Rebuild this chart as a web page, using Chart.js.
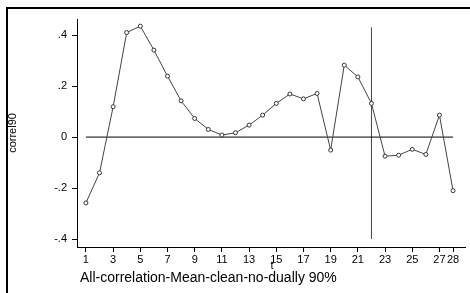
<!DOCTYPE html>
<html>
<head>
<meta charset="utf-8">
<script src="https://cdn.jsdelivr.net/npm/chart.js@4/dist/chart.umd.min.js"></script>
<style>
  html, body { margin: 0; padding: 0; background: #fff; }
  #wrap { width: 470px; height: 293px; position: relative; }
</style>
</head>
<body>
<div id="wrap"><canvas id="chart" width="470" height="293"></canvas></div>
<script>
// values
const tValues = [1, 2, 3, 4, 5, 6, 7, 8, 9, 10, 11, 12, 13, 14, 15, 16, 17, 18, 19, 20, 21, 22, 23, 24, 25, 26, 27, 28];
const correl90 = [-0.258, -0.140, 0.119, 0.410, 0.435, 0.341, 0.239, 0.142, 0.073, 0.030, 0.008, 0.017, 0.047, 0.086,
  0.132, 0.169, 0.150, 0.171, -0.051, 0.282, 0.236, 0.132, -0.075, -0.071, -0.048, -0.068, 0.086, -0.210];
const xTicks = [1, 3, 5, 7, 9, 11, 13, 15, 17, 19, 21, 23, 25, 27, 28];
const yTicks = [-0.4, -0.2, 0, 0.2, 0.4];
const cutT = 22;
const cutRange = [-0.40, 0.43];
const titleText = "All-correlation-Mean-clean-no-dually 90%";

const font = "Arial, 'Liberation Sans', sans-serif";

const framePlugin = {
  id: "frame",
  afterDraw(chart) {
    const ctx = chart.ctx;
    ctx.save();
    ctx.strokeStyle = "#000";
    ctx.lineWidth = 2;
    ctx.beginPath();
    ctx.moveTo(7, 293);
    ctx.lineTo(7, 8);
    ctx.lineTo(470, 8);
    ctx.stroke();

    ctx.fillStyle = "#000";
    ctx.font = "14px " + font;
    ctx.textBaseline = "middle";
    ctx.textAlign = "left";
    ctx.fillText(titleText, 80, 278);

    ctx.font = "11px " + font;
    ctx.textAlign = "center";
    ctx.fillText("t", 272, 266);

    ctx.translate(13, 133);
    ctx.rotate(-Math.PI / 2);
    ctx.fillText("correl90", 0, 0);
    ctx.restore();
  }
};

new Chart(document.getElementById("chart"), {
  type: "line",
  data: {
    datasets: [
      {
        data: tValues.map((t, i) => ({ x: t, y: correl90[i] })),
        borderColor: "#444",
        borderWidth: 1,
        pointRadius: 2,
        pointBorderWidth: 1,
        pointBorderColor: "#333",
        pointBackgroundColor: "#fff",
        tension: 0
      },
      {
        data: [{ x: tValues[0], y: 0 }, { x: tValues[tValues.length - 1], y: 0 }],
        borderColor: "#000",
        borderWidth: 1,
        pointRadius: 0
      },
      {
        data: [{ x: cutT, y: cutRange[0] }, { x: cutT, y: cutRange[1] }],
        borderColor: "#444",
        borderWidth: 1,
        pointRadius: 0
      }
    ]
  },
  options: {
    responsive: false,
    animation: false,
    devicePixelRatio: 1,
    layout: { padding: { left: 0, top: 19, right: 2, bottom: 0 } },
    plugins: { legend: { display: false }, tooltip: { enabled: false } },
    scales: {
      x: {
        type: "linear",
        min: 0.343,
        max: 28.88,
        afterBuildTicks: s => { s.ticks = xTicks.map(v => ({ value: v })); },
        afterFit: s => { s.height = 46; },
        grid: { drawOnChartArea: false, drawTicks: true, tickLength: 5, color: "#000" },
        border: { color: "#000", width: 1 },
        ticks: { autoSkip: false, maxRotation: 0, padding: 1, color: "#000", font: { family: font, size: 11 } }
      },
      y: {
        min: -0.431,
        max: 0.463,
        afterBuildTicks: s => { s.ticks = yTicks.map(v => ({ value: v })); },
        afterFit: s => { s.width = 77; },
        grid: { drawOnChartArea: false, drawTicks: true, tickLength: 5, color: "#000" },
        border: { color: "#000", width: 1 },
        ticks: {
          padding: 5,
          color: "#000",
          font: { family: font, size: 11 },
          callback: v => {
            const r = Math.round(v * 10) / 10;
            if (r === 0) return "0";
            return (r < 0 ? "-" : "") + Math.abs(r).toFixed(1).replace(/^0/, "");
          }
        }
      }
    }
  },
  plugins: [framePlugin]
});
</script>
</body>
</html>
